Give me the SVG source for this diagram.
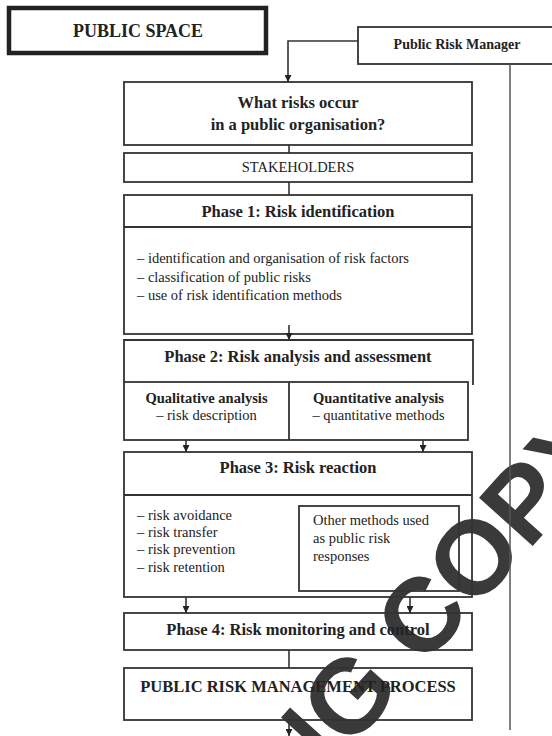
<svg xmlns="http://www.w3.org/2000/svg" width="552" height="736" viewBox="0 0 552 736">
  <style>
    .box{fill:none;stroke:#333;stroke-width:1.8}
    .t{font-family:"Liberation Serif","Times New Roman",serif;fill:#222}
    .h{font-size:16.5px;font-weight:bold;text-anchor:middle}
    .r{font-size:14.5px}
    .mid{text-anchor:middle}
    .conn{stroke:#333;stroke-width:1.6;fill:none}
    .wm{font-family:"Liberation Sans",Arial,sans-serif;font-weight:bold;font-size:105px;fill:#3a3a3a}
  </style>
  <defs>
    <marker id="arr" viewBox="0 0 10 10" refX="10" refY="5" markerWidth="7" markerHeight="7" markerUnits="userSpaceOnUse" orient="auto">
      <path d="M0,0 L10,5 L0,10 z" fill="#222"/>
    </marker>
  </defs>

  <rect width="552" height="736" fill="#fff"/>

  <!-- watermark band, drawn beneath the unfilled boxes -->
  <text class="wm" transform="translate(297.8,806.9) rotate(-48)">NG COPY</text>

  <g id="public-space">
    <rect x="9" y="8" width="257" height="45" fill="none" stroke="#222" stroke-width="4.5"/>
    <text class="t mid" x="138" y="37" font-size="18" font-weight="bold">PUBLIC SPACE</text>
  </g>

  <g id="risk-manager">
    <rect class="box" x="358" y="27" width="210" height="37"/>
    <text class="t mid" x="457" y="49" font-size="14" font-weight="bold">Public Risk Manager</text>
  </g>

  <g id="question">
    <rect class="box" x="124" y="82" width="348" height="63"/>
    <text class="t h" x="298" y="108">What risks occur</text>
    <text class="t h" x="298" y="130">in a public organisation?</text>
  </g>

  <g id="stakeholders">
    <rect class="box" x="124" y="153" width="348" height="29"/>
    <text class="t r mid" x="298" y="172">STAKEHOLDERS</text>
  </g>

  <g id="phase1">
    <rect class="box" x="124" y="195" width="348" height="139"/>
    <line class="box" x1="124" y1="227" x2="472" y2="227"/>
    <text class="t h" x="298" y="217">Phase 1: Risk identification</text>
    <text class="t r" x="137" y="263">– identification and organisation of risk factors</text>
    <text class="t r" x="137" y="282">– classification of public risks</text>
    <text class="t r" x="137" y="300">– use of risk identification methods</text>
  </g>

  <g id="phase2">
    <path class="box" d="M124,382 V340 H473 V385"/>
    <rect class="box" x="124" y="382" width="344" height="58"/>
    <line class="box" x1="289" y1="382" x2="289" y2="440"/>
    <text class="t h" x="298" y="362">Phase 2: Risk analysis and assessment</text>
    <text class="t mid" x="206.5" y="403" font-size="14.5" font-weight="bold">Qualitative analysis</text>
    <text class="t r mid" x="206.5" y="420">– risk description</text>
    <text class="t mid" x="378.5" y="403" font-size="14.5" font-weight="bold">Quantitative analysis</text>
    <text class="t r mid" x="378.5" y="420">– quantitative methods</text>
  </g>

  <g id="phase3">
    <rect class="box" x="124" y="452" width="348" height="145"/>
    <line class="box" x1="124" y1="495" x2="472" y2="495"/>
    <text class="t h" x="298" y="473">Phase 3: Risk reaction</text>
    <text class="t r" x="137" y="520">– risk avoidance</text>
    <text class="t r" x="137" y="537">– risk transfer</text>
    <text class="t r" x="137" y="554">– risk prevention</text>
    <text class="t r" x="137" y="572">– risk retention</text>
    <rect class="box" x="299" y="506" width="160" height="85"/>
    <text class="t r" x="313" y="525">Other methods used</text>
    <text class="t r" x="313" y="543">as public risk</text>
    <text class="t r" x="313" y="561">responses</text>
  </g>

  <g id="phase4">
    <rect class="box" x="124" y="613" width="348" height="37"/>
    <text class="t h" x="298" y="635">Phase 4: Risk monitoring and control</text>
  </g>

  <g id="process">
    <rect class="box" x="124" y="668" width="348" height="52"/>
    <text class="t h" x="298" y="692">PUBLIC RISK MANAGEMENT PROCESS</text>
  </g>

  <g id="connectors">
    <path class="conn" d="M358,41 H288 V82" marker-end="url(#arr)"/>
    <path class="conn" d="M289,145 V153"/>
    <path class="conn" d="M289,182 V195"/>
    <path class="conn" d="M289,325 V340" marker-end="url(#arr)"/>
    <path class="conn" d="M186,440 V452" marker-end="url(#arr)"/>
    <path class="conn" d="M423,440 V452" marker-end="url(#arr)"/>
    <path class="conn" d="M186,597 V613" marker-end="url(#arr)"/>
    <path class="conn" d="M410,597 V613" marker-end="url(#arr)"/>
    <path class="conn" d="M289,650 V668"/>
    <path class="conn" d="M289,720 V736" marker-end="url(#arr)"/>
    <path d="M510,64 V730" stroke="#555" stroke-width="1.5" fill="none"/>
  </g>
</svg>
